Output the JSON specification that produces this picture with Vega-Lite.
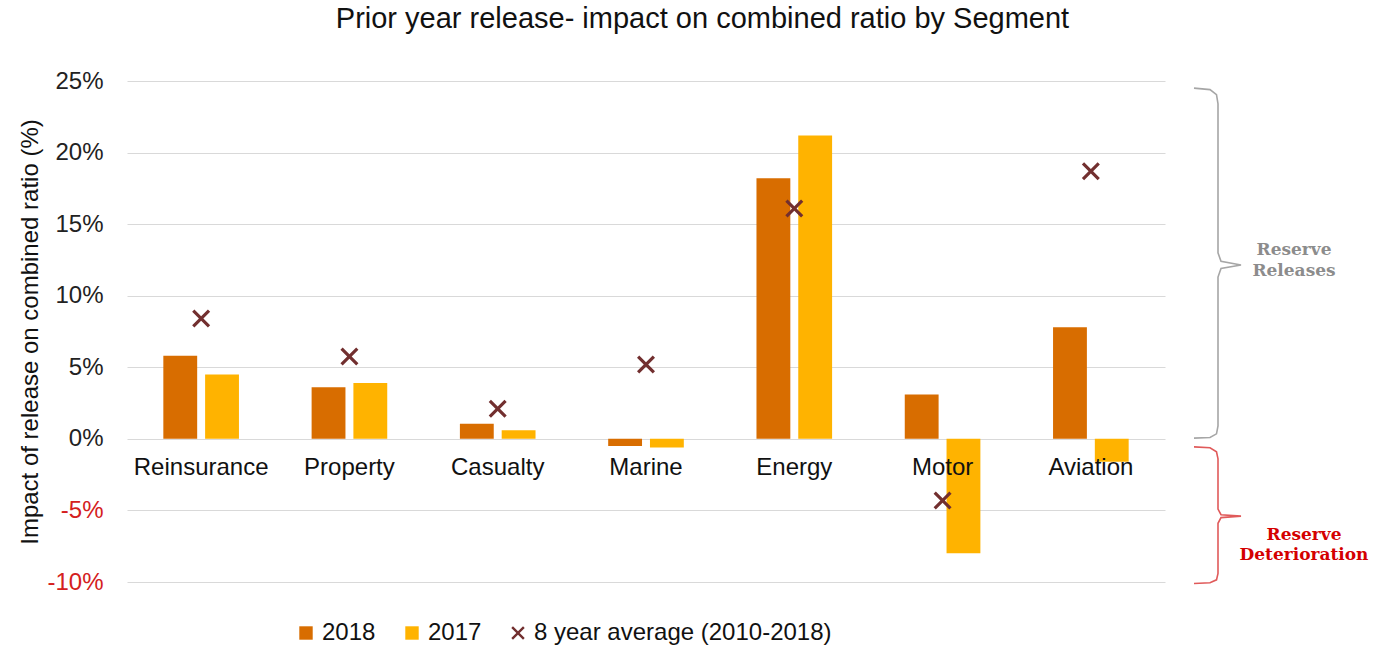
{
  "$schema": "https://vega.github.io/schema/vega-lite/v6.json",
  "background": "white",
  "padding": {"left": 18, "right": 5, "top": 5, "bottom": 5},
  "title": {"text": "Prior year release- impact on combined ratio by Segment", "fontSize": 29, "font": "Liberation Sans", "fontWeight": "normal", "color": "#111111", "anchor": "middle", "dx": 8, "offset": 35},
  "config": {"view": {"stroke": null}, "font": "Liberation Sans"},
  "spacing": 0,
  "hconcat": [
    {
      "width": 1038,
      "height": 501,
      "data": {"values": [
        {"Segment": "Reinsurance", "series": "2018", "value": 5.8},
        {"Segment": "Reinsurance", "series": "2017", "value": 4.5},
        {"Segment": "Reinsurance", "series": "8 year average (2010-2018)", "value": 8.4},
        {"Segment": "Property", "series": "2018", "value": 3.6},
        {"Segment": "Property", "series": "2017", "value": 3.9},
        {"Segment": "Property", "series": "8 year average (2010-2018)", "value": 5.75},
        {"Segment": "Casualty", "series": "2018", "value": 1.05},
        {"Segment": "Casualty", "series": "2017", "value": 0.6},
        {"Segment": "Casualty", "series": "8 year average (2010-2018)", "value": 2.1},
        {"Segment": "Marine", "series": "2018", "value": -0.5},
        {"Segment": "Marine", "series": "2017", "value": -0.6},
        {"Segment": "Marine", "series": "8 year average (2010-2018)", "value": 5.2},
        {"Segment": "Energy", "series": "2018", "value": 18.2},
        {"Segment": "Energy", "series": "2017", "value": 21.2},
        {"Segment": "Energy", "series": "8 year average (2010-2018)", "value": 16.1},
        {"Segment": "Motor", "series": "2018", "value": 3.1},
        {"Segment": "Motor", "series": "2017", "value": -8.0},
        {"Segment": "Motor", "series": "8 year average (2010-2018)", "value": -4.3},
        {"Segment": "Aviation", "series": "2018", "value": 7.8},
        {"Segment": "Aviation", "series": "2017", "value": -1.6},
        {"Segment": "Aviation", "series": "8 year average (2010-2018)", "value": 18.7}
      ]},
      "layer": [
        {
          "transform": [{"filter": "datum.series != '8 year average (2010-2018)'"}],
          "mark": {"type": "bar"},
          "encoding": {
            "x": {"field": "Segment", "type": "nominal", "sort": ["Reinsurance", "Property", "Casualty", "Marine", "Energy", "Motor", "Aviation"], "scale": {"paddingInner": 0.49, "paddingOuter": 0.245}, "axis": null},
            "xOffset": {"field": "series", "type": "nominal", "scale": {"domain": ["2018", "2017"], "paddingInner": 0.19, "paddingOuter": 0}},
            "y": {"field": "value", "type": "quantitative", "scale": {"domain": [-10, 25], "nice": false},
              "axis": {"title": "Impact of release on combined ratio (%)", "titleFontSize": 24, "titleFontWeight": "normal", "titleColor": "#111111", "titlePadding": 4, "labelFontSize": 24, "labelColor": {"condition": {"test": "datum.value < 0", "value": "#D42020"}, "value": "#222222"}, "labelPadding": 24, "values": [-10, -5, 0, 5, 10, 15, 20, 25], "labelExpr": "datum.value + '%'", "grid": true, "gridColor": "#D9D9D9", "domain": false, "ticks": false}},
            "color": {"field": "series", "type": "nominal", "scale": {"domain": ["2018", "2017", "8 year average (2010-2018)"], "range": ["#D86D00", "#FFB300", "#722F2F"]},
              "legend": {"title": null, "orient": "none", "direction": "horizontal", "legendX": 167, "legendY": 540, "labelFontSize": 24, "labelColor": "#111111", "labelLimit": 400, "symbolSize": 180, "labelOffset": 4, "columnPadding": 24, "symbolOpacity": 1}}
          }
        },
        {
          "transform": [{"filter": "datum.series == '8 year average (2010-2018)'"}],
          "mark": {"type": "point", "filled": true, "opacity": 1, "size": 324},
          "encoding": {
            "x": {"field": "Segment", "type": "nominal", "sort": ["Reinsurance", "Property", "Casualty", "Marine", "Energy", "Motor", "Aviation"]},
            "y": {"field": "value", "type": "quantitative"},
            "color": {"field": "series", "type": "nominal"},
            "shape": {"field": "series", "type": "nominal", "scale": {"domain": ["2018", "2017", "8 year average (2010-2018)"], "range": ["square", "square", "M-1,-0.75L-0.25,0L-1,0.75L-0.75,1L0,0.25L0.75,1L1,0.75L0.25,0L1,-0.75L0.75,-1L0,-0.25L-0.75,-1Z"]},
              "legend": {"title": null, "orient": "none", "direction": "horizontal", "legendX": 167, "legendY": 540, "labelFontSize": 24, "labelColor": "#111111", "labelLimit": 400, "symbolSize": 180, "labelOffset": 4, "columnPadding": 24, "symbolOpacity": 1}}
          }
        },
        {
          "transform": [{"filter": "datum.series == '2018'"}],
          "mark": {"type": "text", "dy": 29, "fontSize": 24, "color": "#111111", "baseline": "middle", "align": "center"},
          "encoding": {
            "x": {"field": "Segment", "type": "nominal", "sort": ["Reinsurance", "Property", "Casualty", "Marine", "Energy", "Motor", "Aviation"]},
            "y": {"datum": 0, "type": "quantitative"},
            "text": {"field": "Segment"}
          }
        }
      ]
    },
    {
      "width": 205,
      "height": 501,
      "layer": [
        {
          "data": {"values": [
            {"i": 0, "bx": 29, "by": 24.5}, {"i": 1, "bx": 45, "by": 24.4}, {"i": 2, "bx": 51.5, "by": 24.05}, {"i": 3, "bx": 53, "by": 23.4},
            {"i": 4, "bx": 53, "by": 13.0}, {"i": 5, "bx": 56, "by": 12.4}, {"i": 6, "bx": 76, "by": 12.15}, {"i": 7, "bx": 56, "by": 11.9},
            {"i": 8, "bx": 53, "by": 11.3}, {"i": 9, "bx": 53, "by": 0.9}, {"i": 10, "bx": 51.5, "by": 0.35}, {"i": 11, "bx": 45, "by": 0.1}, {"i": 12, "bx": 29, "by": 0.05}
          ]},
          "mark": {"type": "line", "stroke": "#A6A6A6", "strokeWidth": 1.6},
          "encoding": {
            "x": {"field": "bx", "type": "quantitative", "scale": {"domain": [0, 205], "nice": false, "zero": false}, "axis": null},
            "y": {"field": "by", "type": "quantitative", "scale": {"domain": [-10, 25], "nice": false}, "axis": null},
            "order": {"field": "i", "type": "quantitative"}
          }
        },
        {
          "data": {"values": [
            {"i": 0, "bx": 29, "by": -0.56}, {"i": 1, "bx": 45, "by": -0.62}, {"i": 2, "bx": 51.5, "by": -0.9}, {"i": 3, "bx": 53, "by": -1.4},
            {"i": 4, "bx": 53, "by": -4.9}, {"i": 5, "bx": 56, "by": -5.3}, {"i": 6, "bx": 76, "by": -5.4}, {"i": 7, "bx": 56, "by": -5.5},
            {"i": 8, "bx": 53, "by": -5.9}, {"i": 9, "bx": 53, "by": -9.4}, {"i": 10, "bx": 51.5, "by": -9.85}, {"i": 11, "bx": 45, "by": -10.05}, {"i": 12, "bx": 29, "by": -10.1}
          ]},
          "mark": {"type": "line", "stroke": "#E05A5A", "strokeWidth": 1.6},
          "encoding": {
            "x": {"field": "bx", "type": "quantitative"},
            "y": {"field": "by", "type": "quantitative"},
            "order": {"field": "i", "type": "quantitative"}
          }
        },
        {
          "data": {"values": [{"label": "Reserve\nReleases", "tx": 129, "ty": 13.2}]},
          "mark": {"type": "text", "font": "DejaVu Serif", "fontWeight": "bold", "fontSize": 17, "lineBreak": "\n", "lineHeight": 21, "align": "center", "baseline": "middle", "color": "#8C8C8C"},
          "encoding": {
            "x": {"field": "tx", "type": "quantitative"},
            "y": {"field": "ty", "type": "quantitative"},
            "text": {"field": "label"}
          }
        },
        {
          "data": {"values": [{"label": "Reserve\nDeterioration", "tx": 139, "ty": -6.7}]},
          "mark": {"type": "text", "font": "DejaVu Serif", "fontWeight": "bold", "fontSize": 17, "lineBreak": "\n", "lineHeight": 20, "align": "center", "baseline": "middle", "color": "#D40000"},
          "encoding": {
            "x": {"field": "tx", "type": "quantitative"},
            "y": {"field": "ty", "type": "quantitative"},
            "text": {"field": "label"}
          }
        }
      ]
    }
  ]
}
